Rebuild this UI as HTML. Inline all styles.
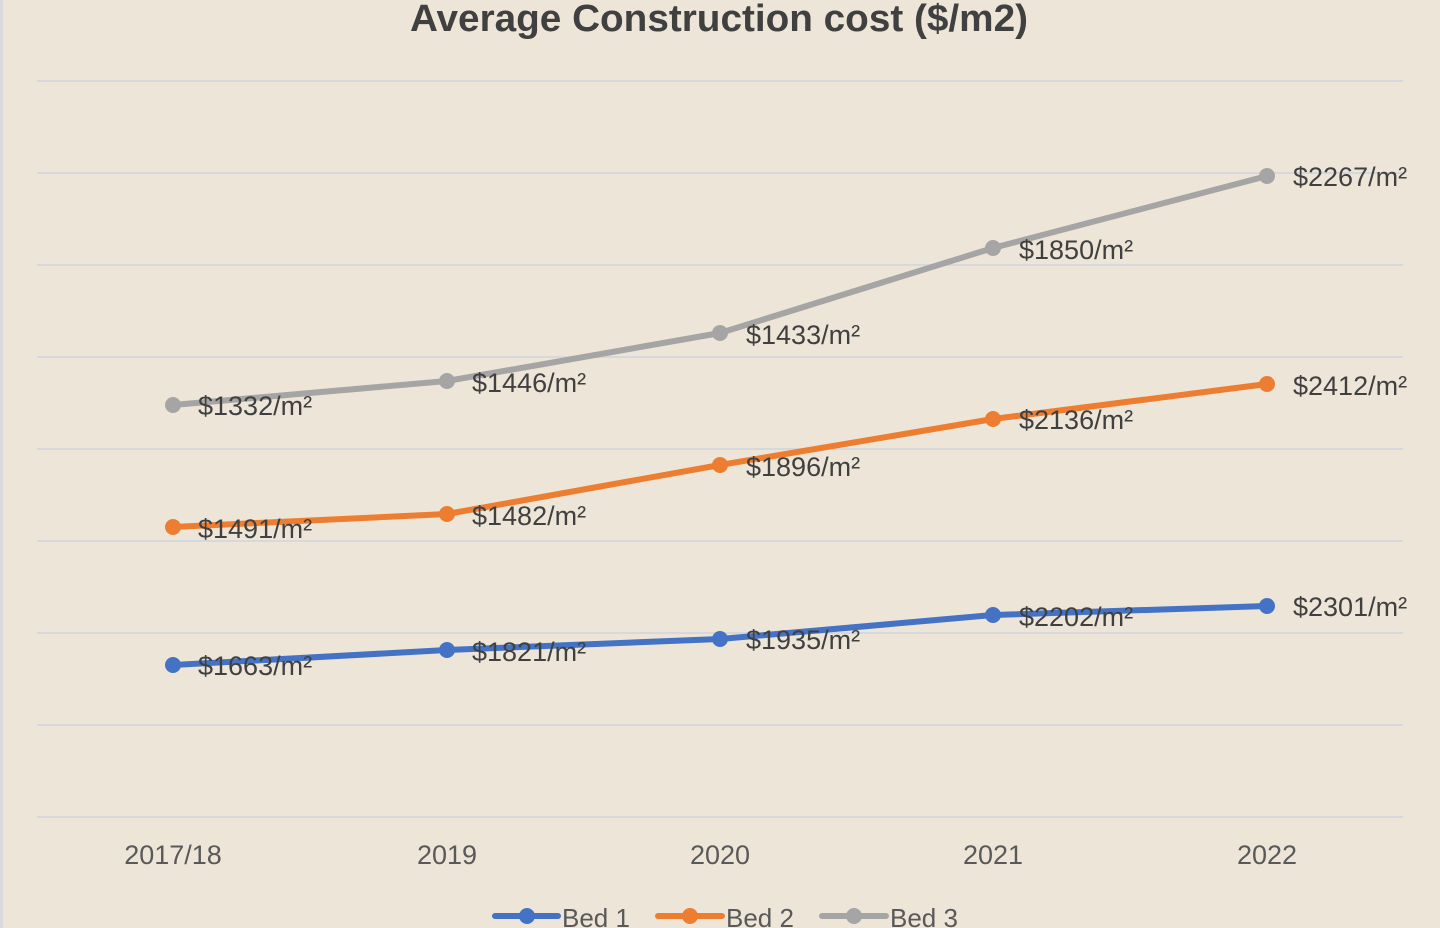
<!DOCTYPE html>
<html><head><style>
body{margin:0;background:#EDE6D8;}
svg{display:block;font-family:"Liberation Sans","DejaVu Sans",sans-serif;}
</style></head><body>
<svg width="1440" height="928" viewBox="0 0 1440 928">
<rect width="1440" height="928" fill="#EDE6D8"/>
<rect x="0" y="0" width="3" height="928" fill="#d9d9de"/>
<text x="719" y="31" text-anchor="middle" font-size="38" font-weight="bold" fill="#404040" textLength="618" lengthAdjust="spacingAndGlyphs">Average Construction cost ($/m2)</text>
<g stroke="#d6d8de" stroke-width="2">
<line x1="37" x2="1403" y1="81" y2="81"/><line x1="37" x2="1403" y1="173" y2="173"/>
<line x1="37" x2="1403" y1="265" y2="265"/><line x1="37" x2="1403" y1="357" y2="357"/>
<line x1="37" x2="1403" y1="449" y2="449"/><line x1="37" x2="1403" y1="541" y2="541"/>
<line x1="37" x2="1403" y1="633" y2="633"/><line x1="37" x2="1403" y1="725" y2="725"/>
<line x1="37" x2="1403" y1="817" y2="817"/>
</g>
<g font-size="27" fill="#595959" text-anchor="middle">
<text x="173" y="864">2017/18</text><text x="447" y="864">2019</text><text x="720" y="864">2020</text><text x="993" y="864">2021</text><text x="1267" y="864">2022</text>
</g>
<g fill="none" stroke-width="6" stroke-linejoin="round" stroke-linecap="round">
<polyline stroke="#A5A5A5" points="173,405 447,381 720,333 993,248 1267,176"/>
<polyline stroke="#ED7D31" points="173,527 447,514 720,465 993,419 1267,384"/>
<polyline stroke="#4472C4" points="173,665 447,650 720,639 993,615 1267,606"/>
</g>
<g fill="#A5A5A5"><circle cx="173" cy="405" r="8"/><circle cx="447" cy="381" r="8"/><circle cx="720" cy="333" r="8"/><circle cx="993" cy="248" r="8"/><circle cx="1267" cy="176" r="8"/></g>
<g fill="#ED7D31"><circle cx="173" cy="527" r="8"/><circle cx="447" cy="514" r="8"/><circle cx="720" cy="465" r="8"/><circle cx="993" cy="419" r="8"/><circle cx="1267" cy="384" r="8"/></g>
<g fill="#4472C4"><circle cx="173" cy="665" r="8"/><circle cx="447" cy="650" r="8"/><circle cx="720" cy="639" r="8"/><circle cx="993" cy="615" r="8"/><circle cx="1267" cy="606" r="8"/></g>
<g font-size="27" fill="#404040">
<text x="198" y="415">$1332/m²</text><text x="472" y="392">$1446/m²</text><text x="746" y="344">$1433/m²</text><text x="1019" y="259">$1850/m²</text><text x="1293" y="186">$2267/m²</text>
<text x="198" y="538">$1491/m²</text><text x="472" y="525">$1482/m²</text><text x="746" y="476">$1896/m²</text><text x="1019" y="429">$2136/m²</text><text x="1293" y="395">$2412/m²</text>
<text x="198" y="675">$1663/m²</text><text x="472" y="661">$1821/m²</text><text x="746" y="649">$1935/m²</text><text x="1019" y="626">$2202/m²</text><text x="1293" y="616">$2301/m²</text>
</g>
<g stroke-width="6" stroke-linecap="round">
<line x1="495" x2="558" y1="916" y2="916" stroke="#4472C4"/><circle cx="527" cy="916" r="8" fill="#4472C4"/>
<line x1="658" x2="722" y1="916" y2="916" stroke="#ED7D31"/><circle cx="690" cy="916" r="8" fill="#ED7D31"/>
<line x1="822" x2="886" y1="916" y2="916" stroke="#A5A5A5"/><circle cx="854" cy="916" r="8" fill="#A5A5A5"/>
</g>
<g font-size="26" fill="#595959">
<text x="562" y="927">Bed 1</text><text x="726" y="927">Bed 2</text><text x="890" y="927">Bed 3</text>
</g>
</svg>
</body></html>
